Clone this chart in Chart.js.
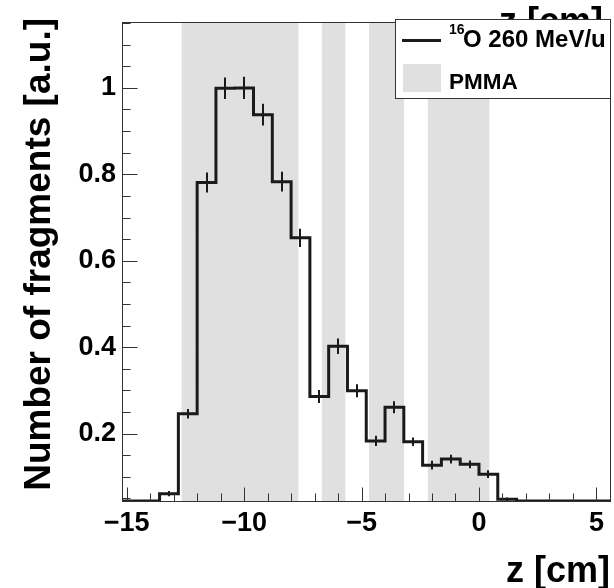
<!DOCTYPE html>
<html>
<head>
<meta charset="utf-8">
<script src="https://cdn.jsdelivr.net/npm/chart.js@4.4.1/dist/chart.umd.min.js"></script>
<style>
  body { margin: 0; background: #fff; }
  #wrap { width: 614px; height: 588px; }
</style>
</head>
<body>
<div id="wrap"><canvas id="fragChart" width="614" height="588"></canvas></div>
<script>
// bin centres along z [cm], bins are 0.8 cm wide
const binCenters = [-14.8, -14.0, -13.2, -12.4, -11.6, -10.8, -10.0, -9.2, -8.4, -7.6,
                    -6.8, -6.0, -5.2, -4.4, -3.6, -2.8, -2.0, -1.2, -0.4, 0.4,
                    1.2, 2.0, 2.8, 3.6, 4.4, 5.2];
const fragments = [0, 0, 0.061, 0.246, 0.781, 0.999, 1.0, 0.938, 0.783, 0.653,
                   0.286, 0.402, 0.299, 0.183, 0.261, 0.181, 0.127, 0.141, 0.129, 0.106,
                   0.048, 0, 0, 0, 0, 0];
const fragErrors = [0, 0, 0.006, 0.011, 0.023, 0.025, 0.026, 0.025, 0.023, 0.021,
                    0.015, 0.018, 0.015, 0.012, 0.014, 0.010, 0.010, 0.010, 0.009, 0.009,
                    0.004, 0, 0, 0, 0, 0];
// PMMA slabs [start, end] in cm
const pmmaSlabs = [[-12.66, -7.69], [-6.69, -5.69], [-4.68, -3.19], [-2.18, 0.44]];
const xTicks = [-15, -10, -5, 0, 5];
const yTicks = [0.2, 0.4, 0.6, 0.8, 1];

const BIN_W = 0.8;
const X_MIN = -15.2, X_MAX = 5.6;
const Y_MIN = 0.044, Y_MAX = 1.152;
const LINE_COLOR = '#1a1a1a';
const AXIS_COLOR = '#333';
const BOLD = 'Liberation Sans, Arial, sans-serif';

// histogram outline: one point per left bin edge plus the last right edge
const histPoints = binCenters.map((c, i) => ({ x: c - BIN_W / 2, y: Math.max(fragments[i], Y_MIN) }));
histPoints.push({ x: binCenters[binCenters.length - 1] + BIN_W / 2, y: Math.max(fragments[fragments.length - 1], Y_MIN) });

const minus = v => (v < 0 ? '\u2212' + Math.abs(v) : String(v));

const decor = {
    id: 'decor',
    beforeDatasetsDraw(chart) {
        const { ctx, chartArea: a, scales: { x } } = chart;
        ctx.save();
        ctx.fillStyle = '#e0e0e0';
        pmmaSlabs.forEach(([z0, z1]) => {
            const p0 = x.getPixelForValue(z0);
            const p1 = x.getPixelForValue(z1);
            ctx.fillRect(p0, a.top, p1 - p0, a.bottom - a.top);
        });
        ctx.restore();
    },
    afterDatasetsDraw(chart) {
        const { ctx, chartArea: a, scales: { x, y } } = chart;
        ctx.save();

        // error bars
        ctx.strokeStyle = LINE_COLOR;
        ctx.lineWidth = 2;
        binCenters.forEach((c, i) => {
            if (!fragErrors[i]) return;
            const px = Math.round(x.getPixelForValue(c));
            ctx.beginPath();
            ctx.moveTo(px, y.getPixelForValue(fragments[i] + fragErrors[i]));
            ctx.lineTo(px, y.getPixelForValue(Math.max(fragments[i] - fragErrors[i], Y_MIN)));
            ctx.stroke();
        });

        // inward tick marks
        ctx.strokeStyle = AXIS_COLOR;
        ctx.lineWidth = 1;
        const left = Math.floor(a.left) + 0.5;
        const bottom = Math.floor(a.bottom) + 0.5;
        for (let v = -15; v <= 5; v++) {
            const px = Math.round(x.getPixelForValue(v)) + 0.5;
            const len = v % 5 === 0 ? 14 : 8;
            ctx.beginPath();
            ctx.moveTo(px, bottom);
            ctx.lineTo(px, bottom - len);
            ctx.stroke();
        }
        for (let k = 1; k <= 23; k++) {
            const v = k * 0.05;
            if (v < Y_MIN || v > Y_MAX) continue;
            const py = Math.round(y.getPixelForValue(v)) + 0.5;
            const len = k % 4 === 0 ? 15 : 8;
            ctx.beginPath();
            ctx.moveTo(left, py);
            ctx.lineTo(left + len, py);
            ctx.stroke();
        }

        // frame
        ctx.strokeRect(left, Math.floor(a.top) + 0.5, Math.floor(a.right) - Math.floor(a.left), Math.floor(a.bottom) - Math.floor(a.top));
        ctx.restore();
    },
    afterDraw(chart) {
        const { ctx } = chart;
        ctx.save();
        ctx.fillStyle = '#000';

        // axis titles
        ctx.font = 'bold 36px ' + BOLD;
        ctx.textAlign = 'right';
        ctx.textBaseline = 'alphabetic';
        ctx.fillText('z [cm]', 610, 582);
        ctx.fillText('z [cm]', 603, 33);

        ctx.save();
        ctx.font = 'bold 37px ' + BOLD;
        ctx.translate(50, 18);
        ctx.rotate(-Math.PI / 2);
        ctx.textAlign = 'right';
        ctx.fillText('Number of fragments [a.u.]', 0, 0);
        ctx.restore();

        // legend box
        ctx.fillStyle = '#fff';
        ctx.fillRect(395, 19, 216, 80);
        ctx.strokeStyle = AXIS_COLOR;
        ctx.lineWidth = 1;
        ctx.strokeRect(395.5, 19.5, 215, 79);

        ctx.strokeStyle = LINE_COLOR;
        ctx.lineWidth = 3;
        ctx.beginPath();
        ctx.moveTo(402, 40.5);
        ctx.lineTo(441, 40.5);
        ctx.stroke();

        ctx.fillStyle = '#e0e0e0';
        ctx.fillRect(403, 64, 38, 28);

        ctx.fillStyle = '#000';
        ctx.textAlign = 'left';
        ctx.font = 'bold 14px ' + BOLD;
        ctx.fillText('16', 449, 34);
        ctx.font = 'bold 24px ' + BOLD;
        ctx.fillText('O 260 MeV/u', 463, 46.5);
        ctx.font = 'bold 22.5px ' + BOLD;
        ctx.fillText('PMMA', 449, 88.5);
        ctx.restore();
    }
};

new Chart(document.getElementById('fragChart').getContext('2d'), {
    type: 'line',
    data: {
        datasets: [{
            label: '16O 260 MeV/u',
            data: histPoints,
            stepped: true,
            borderColor: LINE_COLOR,
            borderWidth: 3,
            borderJoinStyle: 'miter',
            pointRadius: 0,
            fill: false
        }]
    },
    options: {
        responsive: false,
        animation: false,
        events: [],
        layout: { padding: { top: 18, right: 3.5, left: 0, bottom: 0 } },
        plugins: {
            legend: { display: false },
            tooltip: { enabled: false }
        },
        scales: {
            x: {
                type: 'linear',
                min: X_MIN,
                max: X_MAX,
                afterBuildTicks: s => { s.ticks = xTicks.map(v => ({ value: v })); },
                afterFit: s => { s.height = 87; },
                grid: { display: false, drawTicks: false },
                border: { display: false },
                ticks: {
                    padding: 6,
                    maxRotation: 0,
                    autoSkip: false,
                    color: '#000',
                    font: { family: BOLD, weight: 'bold', size: 27 },
                    callback: v => minus(v)
                }
            },
            y: {
                type: 'linear',
                min: Y_MIN,
                max: Y_MAX,
                afterBuildTicks: s => { s.ticks = yTicks.map(v => ({ value: v })); },
                afterFit: s => { s.width = 122; },
                grid: { display: false, drawTicks: false },
                border: { display: false },
                ticks: {
                    padding: 6,
                    autoSkip: false,
                    color: '#000',
                    font: { family: BOLD, weight: 'bold', size: 27 },
                    callback: v => String(v)
                }
            }
        }
    },
    plugins: [decor]
});
</script>
</body>
</html>
